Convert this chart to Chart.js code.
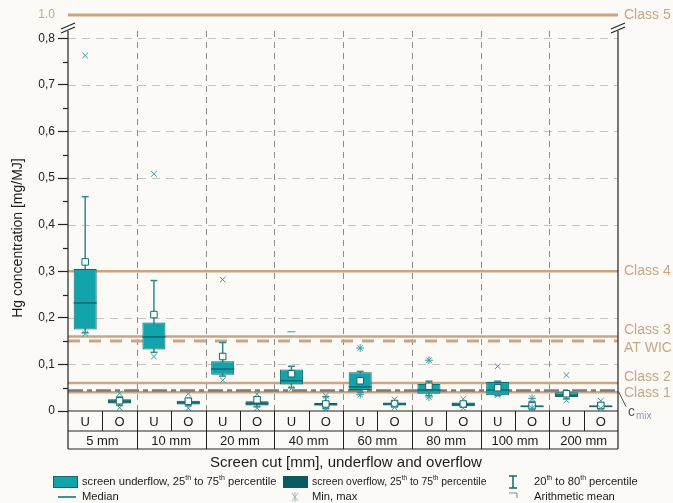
<!DOCTYPE html>
<html>
<head>
<meta charset="utf-8">
<title>Hg concentration by screen cut</title>
<script src="https://cdn.jsdelivr.net/npm/chart.js@4.4.1/dist/chart.umd.min.js"></script>
<style>
  html, body { margin: 0; padding: 0; background: #fbfaf7; }
  #wrap { width: 673px; height: 503px; }
</style>
</head>
<body>
<div id="wrap"><canvas id="hgChart" width="673" height="503"></canvas></div>
<script>
const cuts = ["5 mm", "10 mm", "20 mm", "40 mm", "60 mm", "80 mm", "100 mm", "200 mm"];
const flows = ["U", "O"];

// one slot per cut and flow: U, O, U, O, ...
const p25 = [0.175, 0.016, 0.132, 0.014, 0.078, 0.012, 0.057, 0.012, 0.045, 0.012, 0.037, 0.010, 0.034, 0.008, 0.030, 0.008];
const p75 = [0.305, 0.025, 0.190, 0.022, 0.107, 0.021, 0.089, 0.017, 0.083, 0.018, 0.058, 0.018, 0.0625, 0.012, 0.040, 0.012];
const median = [0.232, 0.020, 0.159, 0.018, 0.090, 0.016, 0.065, 0.014, 0.052, 0.015, 0.045, 0.014, 0.045, 0.010, 0.034, 0.010];
const mean = [0.320, 0.022, 0.207, 0.021, 0.117, 0.024, 0.080, 0.015, 0.065, 0.016, 0.053, 0.015, 0.050, 0.011, 0.037, 0.012];
const p20 = [0.168, 0.012, 0.126, 0.011, 0.075, 0.009, 0.050, 0.005, 0.040, 0.009, 0.033, 0.008, 0.033, 0.005, 0.026, 0.005];
const p80 = [0.460, 0.030, 0.280, 0.027, 0.147, 0.030, 0.096, 0.031, 0.085, 0.022, 0.064, 0.020, 0.064, 0.020, 0.042, 0.016];
const maxVal = [0.763, 0.038, 0.509, 0.037, 0.282, 0.036, 0.170, 0.033, 0.135, 0.025, 0.109, 0.026, 0.096, 0.027, 0.077, 0.022];
const minVal = [0.166, 0.007, 0.117, 0.006, 0.066, 0.006, 0.048, 0.004, 0.035, 0.008, 0.030, 0.006, 0.034, 0.006, 0.023, 0.006];

const maxStyle = ["crossRot", "crossRot", "crossRot", "crossRot", "crossRot", "crossRot", "line", "crossRot",
                  "star", "crossRot", "star", "crossRot", "crossRot", "star", "crossRot", "crossRot"];
const minStyle = ["crossRot", "crossRot", "crossRot", "crossRot", "crossRot", "crossRot", "crossRot", "crossRot",
                  "star", "crossRot", "star", "crossRot", "crossRot", "star", "crossRot", "crossRot"];

// class limits [mg/MJ]
const classNames = ["Class 1", "Class 2", "Class 3", "Class 4", "Class 5"];
const classLimits = [0.04, 0.06, 0.16, 0.30, 1.0];
const atWic = 0.15;
const cMix = 0.044;

const yTicks = [];
for (let i = 0; i <= 17; i++) yTicks.push(Math.round(i * 5) / 100);

const slotLabels = cuts.flatMap(() => flows);
const onlyU = (arr) => arr.map((v, i) => (i % 2 === 0 ? v : null));
const onlyO = (arr) => arr.map((v, i) => (i % 2 === 1 ? v : null));
const boxes = p25.map((v, i) => [v, p75[i]]);

const TAN = "#c9a684";
const TEAL = "#13a3aa";
const TEAL_DARK = "#0c6a70";
const TEAL_DEEP = "#0b5a61";
const FONT = "'Liberation Sans', Arial, sans-serif";

// the axis is broken above 0.8; 1.0 sits at the top of the plot
function yPix(scale, v) {
  return scale.getPixelForValue(v > 0.8 ? 0.85 : v);
}

function line(ctx, x1, y1, x2, y2) {
  ctx.beginPath();
  ctx.moveTo(x1, y1);
  ctx.lineTo(x2, y2);
  ctx.stroke();
}

function richText(ctx, parts, x, y, size, color) {
  let cx = x;
  ctx.fillStyle = color;
  ctx.textAlign = "left";
  ctx.textBaseline = "middle";
  parts.forEach((p) => {
    const sup = Array.isArray(p);
    const t = sup ? p[0] : p;
    ctx.font = (sup ? size * 0.62 : size) + "px " + FONT;
    ctx.fillText(t, cx, sup ? y - size * 0.33 : y);
    cx += ctx.measureText(t).width;
  });
}

const decor = {
  id: "decor",
  beforeDatasetsDraw(chart) {
    const { ctx, chartArea: a, scales: { x, y } } = chart;
    const slot = x.getPixelForValue(1) - x.getPixelForValue(0);
    ctx.save();

    // horizontal grid
    ctx.strokeStyle = "#cbc2c2";
    ctx.lineWidth = 1;
    ctx.setLineDash([8, 6]);
    for (let v = 1; v <= 8; v++) {
      const py = Math.round(y.getPixelForValue(v / 10)) + 0.5;
      line(ctx, a.left, py, a.right, py);
    }
    // group separators
    ctx.strokeStyle = "#8d8d8d";
    ctx.setLineDash([6, 5]);
    for (let g = 1; g < cuts.length; g++) {
      const px = Math.round(x.getPixelForValue(g * 2) - slot / 2) + 0.5;
      line(ctx, px, 31, px, a.bottom);
    }

    // class limits
    ctx.setLineDash([]);
    ctx.strokeStyle = TAN;
    classLimits.forEach((v, i) => {
      ctx.lineWidth = i === 4 ? 3 : 2.5;
      const py = yPix(y, v);
      line(ctx, a.left, py, a.right, py);
    });
    ctx.lineWidth = 3;
    ctx.setLineDash([12, 9]);
    line(ctx, a.left, y.getPixelForValue(atWic), a.right, y.getPixelForValue(atWic));
    ctx.strokeStyle = "#7b7b7b";
    ctx.lineWidth = 2.5;
    ctx.setLineDash([15, 4, 5, 4]);
    line(ctx, a.left, y.getPixelForValue(cMix), a.right, y.getPixelForValue(cMix));

    // 20th to 80th percentile whiskers
    ctx.setLineDash([]);
    ctx.strokeStyle = "#2d8a90";
    ctx.lineWidth = 1.5;
    p20.forEach((lo, i) => {
      const px = x.getPixelForValue(i);
      const yl = y.getPixelForValue(lo);
      const yh = y.getPixelForValue(p80[i]);
      line(ctx, px, yl, px, yh);
      line(ctx, px - 3.5, yl, px + 3.5, yl);
      line(ctx, px - 3.5, yh, px + 3.5, yh);
    });
    ctx.restore();
  },
  afterDraw(chart) {
    const { ctx, chartArea: a, scales: { x, y } } = chart;
    const slot = x.getPixelForValue(1) - x.getPixelForValue(0);
    const row1 = a.bottom + 20;
    const row2 = a.bottom + 38;
    ctx.save();

    // axes with break marks
    ctx.strokeStyle = "#222";
    ctx.lineWidth = 1.2;
    line(ctx, a.left, 30, a.left, row2);
    line(ctx, a.right, 30, a.right, row2);
    line(ctx, a.left, a.bottom, a.right, a.bottom);
    [a.left, a.right].forEach((bx) => {
      ctx.strokeStyle = "#fbfaf7";
      ctx.lineWidth = 3;
      line(ctx, bx, 23, bx, 31);
      ctx.strokeStyle = "#222";
      ctx.lineWidth = 1.2;
      line(ctx, bx - 7, 29, bx + 7, 23);
      line(ctx, bx - 7, 33, bx + 7, 27);
    });

    // minor ticks
    yTicks.forEach((v, i) => {
      if (i % 2 === 1 && v < 0.8) {
        const py = Math.round(y.getPixelForValue(v)) + 0.5;
        line(ctx, a.left - 5, py, a.left, py);
      }
    });

    // category table under the plot
    ctx.lineWidth = 1;
    line(ctx, a.left, row1, a.right, row1);
    line(ctx, a.left, row2, a.right, row2);
    ctx.fillStyle = "#1a1a1a";
    ctx.textAlign = "center";
    ctx.textBaseline = "middle";
    ctx.font = "13px " + FONT;
    slotLabels.forEach((lab, i) => {
      const px = x.getPixelForValue(i);
      ctx.fillText(lab, px, (a.bottom + row1) / 2 + 1);
      if (i > 0) {
        const bx = Math.round(px - slot / 2) + 0.5;
        line(ctx, bx, a.bottom, bx, i % 2 === 0 ? row2 : row1);
      }
    });
    cuts.forEach((c, g) => {
      const px = (x.getPixelForValue(g * 2) + x.getPixelForValue(g * 2 + 1)) / 2;
      ctx.fillText(c, px, (row1 + row2) / 2 + 1);
    });

    // axis titles
    ctx.font = "15px " + FONT;
    ctx.fillText("Screen cut [mm], underflow and overflow", 346, 463);
    ctx.save();
    ctx.translate(18, 238);
    ctx.rotate(-Math.PI / 2);
    ctx.font = "14px " + FONT;
    ctx.fillText("Hg concentration [mg/MJ]", 0, 0);
    ctx.restore();

    // class labels on the right
    const nudge = { "Class 1": 1, "Class 2": -6, "Class 3": -6, "Class 4": 0, "Class 5": 0 };
    ctx.font = "14px " + FONT;
    ctx.fillStyle = TAN;
    ctx.textAlign = "left";
    classNames.forEach((n, i) => {
      ctx.fillText(n, a.right + 6, yPix(y, classLimits[i]) + nudge[n]);
    });
    ctx.fillText("AT WIC", a.right + 6, y.getPixelForValue(atWic) + 7);

    // c_mix callout
    ctx.strokeStyle = "#555";
    ctx.lineWidth = 1;
    const cy = y.getPixelForValue(cMix);
    line(ctx, a.right, cy, a.right + 8, cy + 16);
    ctx.fillStyle = "#555";
    ctx.font = "14px " + FONT;
    ctx.fillText("c", a.right + 10, cy + 22);
    ctx.fillStyle = "#8b9db3";
    ctx.font = "10px " + FONT;
    ctx.fillText("mix", a.right + 18, cy + 26);

    // legend
    const ly1 = 482, ly2 = 497;
    const lsize = 11.2;
    ctx.lineWidth = 1;
    ctx.fillStyle = TEAL;
    ctx.strokeStyle = TEAL_DARK;
    ctx.fillRect(53, ly1 - 6, 25, 12);
    ctx.strokeRect(53.5, ly1 - 5.5, 24, 11);
    ctx.fillStyle = TEAL_DEEP;
    ctx.fillRect(283, ly1 - 6, 25, 12);
    richText(ctx, ["screen underflow, 25", ["th"], " to 75", ["th"], " percentile"], 82, ly1, lsize, "#1a1a1a");
    ctx.save();
    ctx.translate(312, 0);
    ctx.scale(0.93, 1);
    richText(ctx, ["screen overflow, 25", ["th"], " to 75", ["th"], " percentile"], 0, ly1, lsize, "#1a1a1a");
    ctx.restore();
    richText(ctx, ["20", ["th"], " to 80", ["th"], " percentile"], 534, ly1, lsize, "#1a1a1a");
    richText(ctx, ["Median"], 82, ly2, lsize, "#1a1a1a");
    richText(ctx, ["Min, max"], 312, ly2, lsize, "#1a1a1a");
    richText(ctx, ["Arithmetic mean"], 534, ly2, lsize, "#1a1a1a");

    ctx.strokeStyle = TEAL_DARK;
    ctx.lineWidth = 1.5;
    line(ctx, 58, ly2, 76, ly2);
    line(ctx, 513, ly1 - 6, 513, ly1 + 6);
    line(ctx, 509, ly1 - 6, 517, ly1 - 6);
    line(ctx, 509, ly1 + 6, 517, ly1 + 6);
    ctx.strokeStyle = "#9fb6b8";
    ctx.lineWidth = 1;
    line(ctx, 292, ly2 - 4, 298, ly2 + 4);
    line(ctx, 292, ly2 + 4, 298, ly2 - 4);
    line(ctx, 295, ly2 - 5, 295, ly2 + 5);
    ctx.strokeStyle = "#888";
    line(ctx, 509, ly2 - 4, 517, ly2 - 4);
    line(ctx, 517, ly2 - 4, 517, ly2 + 1);

    ctx.restore();
  }
};

new Chart(document.getElementById("hgChart"), {
  data: {
    labels: slotLabels,
    datasets: [
      {
        type: "line", label: "Max", data: maxVal, showLine: false, order: 1,
        pointStyle: maxStyle, pointRadius: 4, pointBorderWidth: 1,
        pointBorderColor: "#3f9aa0", pointBackgroundColor: "#3f9aa0"
      },
      {
        type: "line", label: "Min", data: minVal, showLine: false, order: 1,
        pointStyle: minStyle, pointRadius: 4, pointBorderWidth: 1,
        pointBorderColor: "#3f9aa0", pointBackgroundColor: "#3f9aa0"
      },
      {
        type: "line", label: "Arithmetic mean", data: mean, showLine: false, order: 2,
        pointStyle: "rect", pointRadius: 4.6, pointBorderWidth: 1,
        pointBorderColor: TEAL_DARK, pointBackgroundColor: "#ffffff"
      },
      {
        type: "line", label: "Median", data: median, showLine: false, order: 3,
        pointStyle: "line", pointRadius: 11.5, pointBorderWidth: 1.5,
        pointBorderColor: TEAL_DARK
      },
      {
        type: "bar", label: "screen underflow", data: onlyU(boxes), order: 4,
        backgroundColor: TEAL, borderColor: TEAL_DARK, borderWidth: 1, borderSkipped: false,
        grouped: false, barPercentage: 0.67, categoryPercentage: 1
      },
      {
        type: "bar", label: "screen overflow", data: onlyO(boxes), order: 4,
        backgroundColor: TEAL_DEEP, borderColor: TEAL_DEEP, borderWidth: 1, borderSkipped: false,
        grouped: false, barPercentage: 0.67, categoryPercentage: 1
      }
    ]
  },
  options: {
    responsive: false,
    animation: false,
    layout: { padding: { left: 0, right: 55, top: 15, bottom: 92 } },
    plugins: { legend: { display: false }, tooltip: { enabled: false } },
    scales: {
      x: { type: "category", offset: true, display: false },
      y: {
        min: 0,
        max: 0.85,
        afterFit(scale) { scale.width = 68; },
        afterBuildTicks(scale) { scale.ticks = yTicks.map((v) => ({ value: v })); },
        border: { display: false },
        grid: {
          drawOnChartArea: false,
          drawTicks: true,
          tickLength: 10,
          tickWidth: 1.2,
          tickColor: (c) => {
            const i = yTicks.indexOf(c.tick.value);
            return i % 2 === 1 || i === 17 ? "rgba(0,0,0,0)" : "#222";
          }
        },
        ticks: {
          padding: 3,
          autoSkip: false,
          font: { family: FONT, size: 12 },
          color: (c) => (c.tick && c.tick.value === 0.85 ? TAN : "#222"),
          callback: (v, i) => {
            if (i === 17) return "1.0";
            if (i % 2 === 1) return "";
            return v === 0 ? "0" : v.toFixed(1).replace(".", ",");
          }
        }
      }
    }
  },
  plugins: [decor]
});
</script>
</body>
</html>
